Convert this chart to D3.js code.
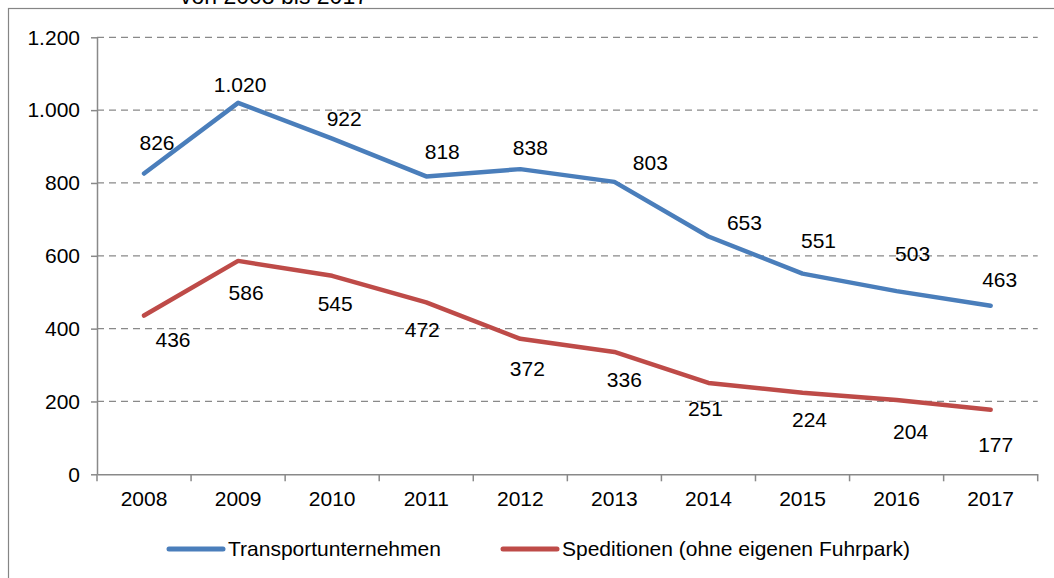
<!DOCTYPE html>
<html>
<head>
<meta charset="utf-8">
<script src="https://cdn.jsdelivr.net/npm/d3@7"></script>
<style>
  body { margin: 0; background: #fff; }
  svg { display: block; font-family: "Liberation Sans", Arial, sans-serif; }
</style>
</head>
<body>
<svg id="chart" width="1054" height="578"></svg>
<script>
// data
var years = ["2008", "2009", "2010", "2011", "2012", "2013", "2014", "2015", "2016", "2017"];
var transport = [826, 1020, 922, 818, 838, 803, 653, 551, 503, 463];
var speditionen = [436, 586, 545, 472, 372, 336, 251, 224, 204, 177];
var yTicks = [0, 200, 400, 600, 800, 1000, 1200];
var seriesNames = ["Transportunternehmen", "Speditionen (ohne eigenen Fuhrpark)"];
var titleText = "von 2008 bis 2017";

// label nudges (dx, dy) relative to each point, as placed in the original
var shiftBlue = [[13,-23],[2,-11],[12,-13],[16,-17],[10,-14],[36,-12],[36,-6],[16,-26],[16,-30],[9,-19]];
var shiftRed = [[29,31],[8,39],[3,35],[-4,35],[7,37],[10,35],[-3,33],[7,34],[14,39],[5,42]];

var margin = { top: 37.3, left: 97, right: 1054 - 1037.7, bottom: 578 - 474.3 };
var svg = d3.select("#chart");
var width = 1054, height = 578;
var innerW = width - margin.left - margin.right;
var innerH = height - margin.top - margin.bottom;
var fontSize = 21;
var axisColor = "#898989";
var blue = "#4a7ebb", red = "#be4b48";

// outer frame (extends past the right and bottom edge)
svg.append("rect")
  .attr("x", 8.5).attr("y", 8.5)
  .attr("width", 1200).attr("height", 700)
  .attr("fill", "none")
  .attr("stroke", "#858585")
  .attr("stroke-width", 1.2);

// title, cut off at the top edge as in the original
svg.append("text")
  .attr("x", 180).attr("y", 4)
  .style("font-size", "23px")
  .attr("fill", "#000")
  .text(titleText);

var g = svg.append("g").attr("transform", `translate(${margin.left},${margin.top})`);

var x = d3.scaleBand().domain(years).range([0, innerW]);
var y = d3.scaleLinear().domain([0, 1200]).range([innerH, 0]);

// gridlines
g.append("g")
  .selectAll("line")
  .data(yTicks.filter(d => d > 0))
  .enter().append("line")
  .attr("x1", 0).attr("x2", innerW)
  .attr("y1", d => y(d)).attr("y2", d => y(d))
  .attr("stroke", axisColor)
  .attr("stroke-width", 1.3)
  .attr("stroke-dasharray", "7,5");

// y axis
g.append("g")
  .call(d3.axisLeft(y).tickValues(yTicks).tickSize(6).tickSizeOuter(0).tickPadding(11)
    .tickFormat(d => d3.format(",")(d).replace(/,/g, ".")))
  .call(a => a.selectAll("line, path").attr("stroke", axisColor).attr("stroke-width", 1.5))
  .call(a => a.selectAll("text").style("font-size", fontSize + "px").attr("fill", "#000"));

// x axis with ticks at category boundaries
var xAxis = g.append("g").attr("transform", `translate(0,${innerH})`);
xAxis.call(d3.axisBottom(x).tickSize(0).tickSizeOuter(0).tickPadding(17))
  .call(a => a.select(".domain").attr("stroke", axisColor).attr("stroke-width", 1.5))
  .call(a => a.selectAll("text").style("font-size", fontSize + "px").attr("fill", "#000"));
xAxis.selectAll("line.bound")
  .data(years.concat(["end"]))
  .enter().append("line")
  .attr("class", "bound")
  .attr("x1", (d, i) => i < years.length ? x(d) : innerW)
  .attr("x2", (d, i) => i < years.length ? x(d) : innerW)
  .attr("y1", 0).attr("y2", 7)
  .attr("stroke", axisColor)
  .attr("stroke-width", 1.5);

// lines
var line = d3.line()
  .x((d, i) => x(years[i]) + x.bandwidth() / 2)
  .y(d => y(d));

function drawSeries(values, color, shifts) {
  g.append("path")
    .datum(values)
    .attr("d", line)
    .attr("fill", "none")
    .attr("stroke", color)
    .attr("stroke-width", 4.5)
    .attr("stroke-linecap", "round")
    .attr("stroke-linejoin", "round");
  g.append("g")
    .selectAll("text")
    .data(values)
    .enter().append("text")
    .attr("x", (d, i) => x(years[i]) + x.bandwidth() / 2 + shifts[i][0])
    .attr("y", (d, i) => y(d) + shifts[i][1])
    .attr("text-anchor", "middle")
    .style("font-size", fontSize + "px")
    .attr("fill", "#000")
    .text(d => d3.format(",")(d).replace(/,/g, "."));
}
drawSeries(transport, blue, shiftBlue);
drawSeries(speditionen, red, shiftRed);

// legend
var legendItems = [
  { name: seriesNames[0], color: blue, x: 169 },
  { name: seriesNames[1], color: red, x: 503 }
];
var legend = svg.append("g");
legendItems.forEach(function(item) {
  legend.append("line")
    .attr("x1", item.x).attr("x2", item.x + 54)
    .attr("y1", 549).attr("y2", 549)
    .attr("stroke", item.color)
    .attr("stroke-width", 5)
    .attr("stroke-linecap", "round");
  legend.append("text")
    .attr("x", item.x + 59).attr("y", 555.5)
    .style("font-size", fontSize + "px")
    .attr("fill", "#000")
    .text(item.name);
});
</script>
</body>
</html>
